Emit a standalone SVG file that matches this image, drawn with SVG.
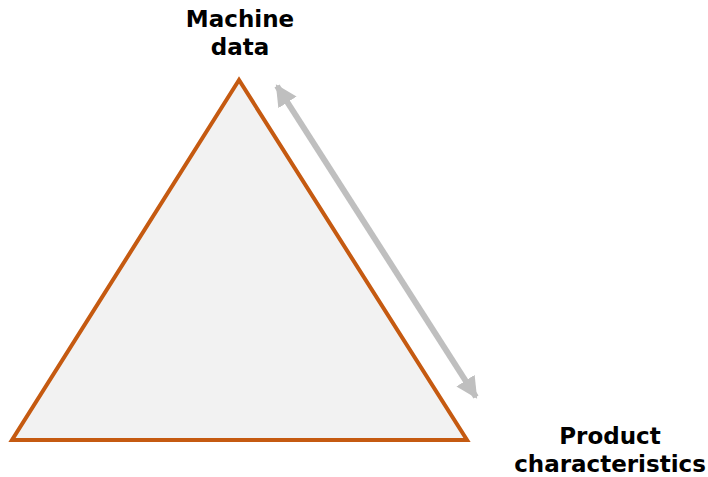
<svg xmlns="http://www.w3.org/2000/svg" width="708" height="477" viewBox="0 0 708 477">
<style>
.lbl{font-family:"DejaVu Sans","Verdana",sans-serif;font-weight:bold;font-size:23px;fill:#000;text-anchor:middle}
</style>
<defs>
<marker id="ah" viewBox="0 0 10 10" refX="9" refY="5" markerWidth="3.6" markerHeight="3.6" orient="auto-start-reverse" markerUnits="strokeWidth">
<path d="M0,0 L10,5 L0,10 z" fill="#BFBFBF"/>
</marker>
</defs>
<rect width="708" height="477" fill="#FFFFFF"/>
<g id="triangle">
<polygon points="239,80 12,440 467,440" fill="#F2F2F2" stroke="#C55A11" stroke-width="4" stroke-linejoin="miter"/>
</g>
<g id="connectors">
<line x1="277" y1="86" x2="476" y2="397" stroke="#BFBFBF" stroke-width="6" marker-start="url(#ah)" marker-end="url(#ah)"/>
</g>
<g id="machine-data">
<text class="lbl" x="240" y="27">Machine</text>
<text class="lbl" x="240" y="55">data</text>
</g>
<g id="product-characteristics">
<text class="lbl" x="610" y="444">Product</text>
<text class="lbl" x="610" y="472">characteristics</text>
</g>
</svg>
